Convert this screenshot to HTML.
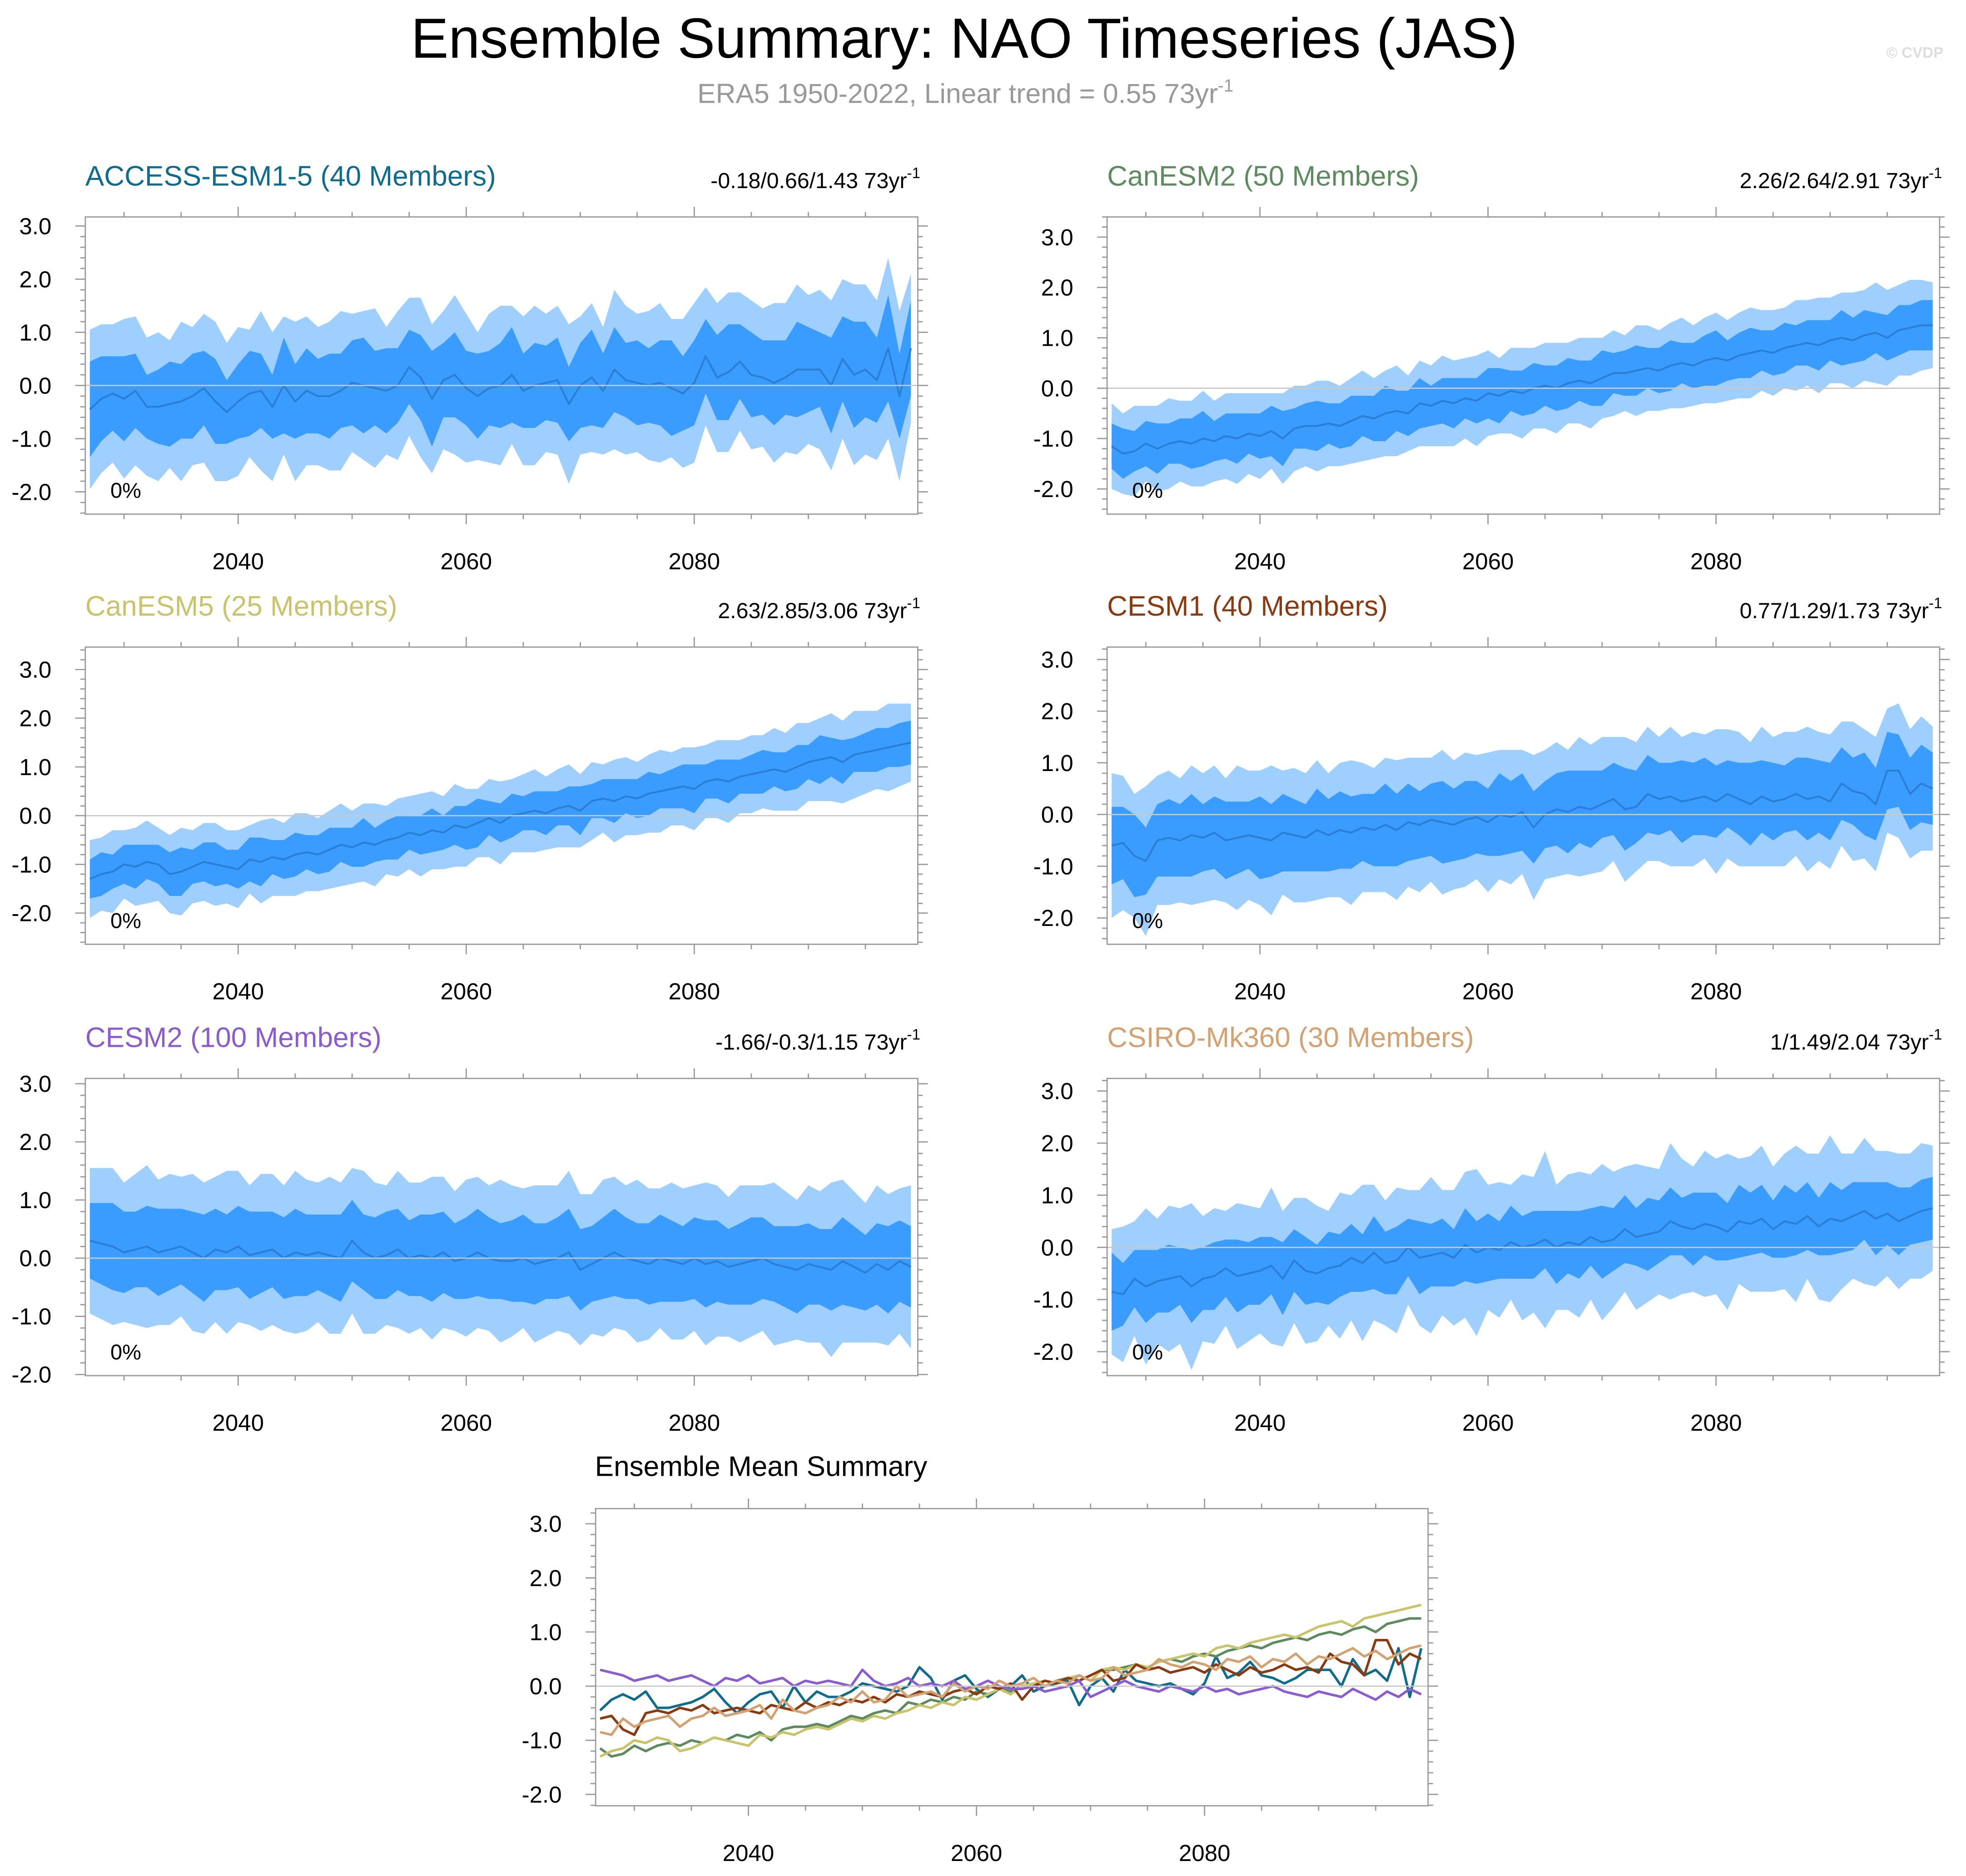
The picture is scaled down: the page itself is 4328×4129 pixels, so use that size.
<!DOCTYPE html>
<html><head><meta charset="utf-8"><style>
html,body{margin:0;padding:0;background:#fff}
svg{display:block;font-family:"Liberation Sans",sans-serif}
</style></head><body>
<svg id="chart" width="4328" height="4129" viewBox="0 0 1568 1496" xmlns="http://www.w3.org/2000/svg">
<rect width="1568" height="1496" fill="#fff"/>
<text x="769" y="46" font-size="45" text-anchor="middle">Ensemble Summary: NAO Timeseries (JAS)</text>
<text x="770" y="82" font-size="22" fill="#999" text-anchor="middle">ERA5 1950-2022, Linear trend = 0.55 73yr<tspan font-size="14" dy="-9">-1</tspan></text>
<text x="1550" y="46" font-size="12" font-weight="bold" fill="#ddd" text-anchor="end">© CVDP</text>
<g id="panels"></g>
</svg>
<script>
const years = []; for (let y = 2027; y <= 2099; y++) years.push(y);
const xTicks = [2040, 2060, 2080];
const yTicks = [-2, -1, 0, 1, 2, 3];
const yTickLabels = ["-2.0", "-1.0", "0.0", "1.0", "2.0", "3.0"];

const accessMean = [-0.45,-0.25,-0.15,-0.25,-0.1,-0.4,-0.4,-0.35,-0.3,-0.2,-0.05,-0.3,-0.5,-0.3,-0.15,-0.1,-0.4,0.0,-0.3,-0.1,-0.2,-0.2,-0.1,0.05,0.0,-0.05,-0.1,0.0,0.35,0.15,-0.25,0.1,0.2,-0.05,-0.2,-0.05,0.0,0.2,-0.1,0.0,0.05,0.1,-0.35,0.0,0.15,-0.1,0.3,0.1,0.05,0.0,0.05,-0.05,-0.15,0.05,0.55,0.15,0.25,0.45,0.2,0.15,0.05,0.15,0.3,0.3,0.3,0.0,0.5,0.2,0.3,0.1,0.7,-0.2,0.7];
const accessInner = [0.9,0.8,0.7,0.8,0.7,0.6,0.7,0.8,0.7,0.8,0.7,0.8,0.6,0.7,0.8,0.7,0.6,0.9,0.7,0.8,0.7,0.8,0.7,0.8,0.9,0.7,0.8,0.7,0.7,0.8,0.9,0.7,0.8,0.7,0.8,0.7,0.8,0.9,0.7,0.8,0.7,0.8,0.7,0.8,0.9,0.7,0.8,0.7,0.8,0.7,0.8,0.9,0.7,0.8,0.7,0.8,0.9,0.7,0.8,0.7,0.8,0.7,0.9,0.8,0.7,0.9,0.8,1.0,0.9,0.8,1.0,0.8,0.9];
const accessOuter = [1.5,1.4,1.3,1.5,1.4,1.3,1.4,1.2,1.5,1.3,1.4,1.5,1.3,1.4,1.2,1.5,1.4,1.3,1.5,1.4,1.3,1.4,1.5,1.3,1.4,1.5,1.2,1.4,1.3,1.5,1.4,1.3,1.5,1.4,1.2,1.4,1.5,1.3,1.4,1.5,1.3,1.4,1.5,1.3,1.4,1.2,1.5,1.4,1.3,1.4,1.5,1.3,1.4,1.5,1.3,1.4,1.5,1.3,1.4,1.3,1.5,1.4,1.6,1.4,1.5,1.6,1.5,1.7,1.6,1.5,1.7,1.6,1.4];

const can2Mean = [-1.15,-1.3,-1.25,-1.1,-1.2,-1.1,-1.05,-1.1,-1.0,-1.05,-0.95,-1.0,-0.9,-0.95,-0.85,-1.0,-0.8,-0.75,-0.75,-0.7,-0.75,-0.65,-0.55,-0.6,-0.5,-0.45,-0.5,-0.3,-0.35,-0.25,-0.3,-0.2,-0.25,-0.1,-0.15,-0.05,-0.1,0.0,0.05,0.0,0.1,0.15,0.1,0.2,0.3,0.3,0.35,0.4,0.35,0.45,0.5,0.45,0.55,0.6,0.55,0.65,0.7,0.75,0.7,0.8,0.85,0.9,0.85,0.95,1.0,0.95,1.05,1.1,1.0,1.15,1.2,1.25,1.25];
const can2Inner = [0.45,0.5,0.4,0.45,0.5,0.4,0.45,0.5,0.55,0.4,0.45,0.5,0.4,0.45,0.5,0.55,0.4,0.45,0.5,0.4,0.45,0.5,0.4,0.45,0.55,0.4,0.45,0.5,0.4,0.45,0.5,0.4,0.45,0.5,0.55,0.4,0.45,0.5,0.4,0.45,0.5,0.4,0.45,0.55,0.4,0.45,0.5,0.4,0.45,0.5,0.4,0.45,0.5,0.55,0.4,0.45,0.5,0.4,0.45,0.5,0.4,0.45,0.5,0.4,0.55,0.45,0.5,0.4,0.45,0.5,0.45,0.5,0.5];
const can2Outer = [0.85,0.8,0.9,0.75,0.85,0.9,0.8,0.85,0.95,0.8,0.85,0.9,0.8,0.85,0.75,0.9,0.85,0.8,0.9,0.85,0.8,0.85,0.9,0.8,0.85,0.9,0.75,0.85,0.8,0.9,0.85,0.8,0.9,0.85,0.75,0.85,0.9,0.8,0.85,0.9,0.8,0.85,0.9,0.8,0.85,0.75,0.9,0.85,0.8,0.85,0.9,0.8,0.85,0.9,0.8,0.85,0.9,0.8,0.85,0.8,0.9,0.85,0.95,0.85,0.9,0.95,0.9,1.0,0.95,0.9,0.95,0.9,0.85];

const can5Mean = [-1.3,-1.2,-1.15,-1.0,-1.05,-0.95,-1.0,-1.2,-1.15,-1.05,-0.95,-1.0,-1.05,-1.1,-0.9,-0.95,-0.85,-0.9,-0.8,-0.75,-0.8,-0.7,-0.6,-0.65,-0.55,-0.6,-0.5,-0.45,-0.35,-0.4,-0.3,-0.35,-0.2,-0.25,-0.15,-0.05,-0.15,0.0,0.05,0.1,0.05,0.15,0.2,0.1,0.3,0.35,0.3,0.4,0.35,0.45,0.5,0.55,0.6,0.55,0.7,0.75,0.7,0.8,0.85,0.9,0.95,0.9,1.0,1.1,1.15,1.2,1.1,1.25,1.3,1.35,1.4,1.45,1.5];
const can5Inner = [0.4,0.45,0.35,0.4,0.45,0.35,0.4,0.45,0.5,0.35,0.4,0.45,0.35,0.4,0.45,0.5,0.35,0.4,0.45,0.35,0.4,0.45,0.35,0.4,0.5,0.35,0.4,0.45,0.35,0.4,0.45,0.35,0.4,0.45,0.5,0.35,0.4,0.45,0.35,0.4,0.45,0.35,0.4,0.5,0.35,0.4,0.45,0.35,0.4,0.45,0.35,0.4,0.45,0.5,0.35,0.4,0.45,0.35,0.4,0.45,0.35,0.4,0.45,0.35,0.5,0.4,0.45,0.35,0.4,0.45,0.4,0.45,0.45];
const can5Outer = [0.8,0.75,0.85,0.7,0.8,0.85,0.75,0.8,0.9,0.75,0.8,0.85,0.75,0.8,0.7,0.85,0.8,0.75,0.85,0.8,0.75,0.8,0.85,0.75,0.8,0.85,0.7,0.8,0.75,0.85,0.8,0.75,0.85,0.8,0.7,0.8,0.85,0.75,0.8,0.85,0.75,0.8,0.85,0.75,0.8,0.7,0.85,0.8,0.75,0.8,0.85,0.75,0.8,0.85,0.75,0.8,0.85,0.75,0.8,0.75,0.85,0.8,0.9,0.8,0.85,0.9,0.85,0.9,0.85,0.8,0.9,0.85,0.8];

const cesm1Mean = [-0.6,-0.55,-0.8,-0.9,-0.5,-0.45,-0.5,-0.4,-0.45,-0.35,-0.5,-0.45,-0.4,-0.45,-0.5,-0.35,-0.4,-0.45,-0.3,-0.4,-0.3,-0.35,-0.25,-0.3,-0.2,-0.3,-0.15,-0.2,-0.1,-0.15,-0.2,-0.1,-0.05,-0.15,0.0,-0.05,0.05,-0.25,0.0,0.1,0.05,0.15,0.1,0.2,0.3,0.1,0.15,0.4,0.3,0.35,0.25,0.3,0.35,0.25,0.4,0.3,0.2,0.35,0.25,0.3,0.4,0.3,0.35,0.25,0.6,0.45,0.4,0.2,0.85,0.85,0.4,0.6,0.5];
const cesm1Inner = [0.75,0.7,0.8,0.65,0.7,0.75,0.7,0.8,0.65,0.7,0.75,0.7,0.65,0.8,0.7,0.75,0.7,0.65,0.8,0.7,0.75,0.7,0.65,0.7,0.8,0.7,0.75,0.65,0.7,0.8,0.7,0.75,0.7,0.65,0.8,0.7,0.75,0.7,0.65,0.7,0.8,0.7,0.75,0.65,0.7,0.8,0.7,0.75,0.7,0.65,0.8,0.7,0.75,0.7,0.65,0.7,0.8,0.7,0.75,0.65,0.7,0.8,0.7,0.75,0.7,0.65,0.8,0.7,0.75,0.7,0.7,0.75,0.7];
const cesm1Outer = [1.4,1.3,1.2,1.45,1.25,1.3,1.2,1.35,1.25,1.3,1.2,1.4,1.25,1.3,1.45,1.2,1.3,1.25,1.35,1.2,1.3,1.4,1.25,1.2,1.3,1.35,1.25,1.3,1.2,1.4,1.25,1.3,1.2,1.35,1.25,1.3,1.2,1.4,1.25,1.3,1.2,1.35,1.25,1.3,1.2,1.4,1.25,1.3,1.2,1.35,1.25,1.3,1.2,1.4,1.25,1.3,1.2,1.35,1.25,1.3,1.2,1.4,1.25,1.3,1.2,1.35,1.25,1.3,1.2,1.3,1.25,1.3,1.2];

const cesm2Mean = [0.3,0.25,0.2,0.1,0.15,0.2,0.1,0.15,0.2,0.1,0.0,0.15,0.1,0.2,0.05,0.1,0.15,0.0,0.1,0.05,0.1,0.05,0.0,0.3,0.1,0.0,0.05,0.15,0.0,0.05,0.0,0.1,-0.05,0.0,0.1,0.0,-0.05,-0.05,0.0,-0.1,-0.05,0.0,0.1,-0.2,-0.1,0.0,0.1,0.0,-0.05,-0.1,0.0,-0.05,-0.1,0.0,-0.1,-0.05,-0.15,-0.1,-0.05,0.0,-0.1,-0.15,-0.2,-0.1,-0.15,-0.2,-0.05,-0.15,-0.25,-0.1,-0.2,-0.05,-0.15];
const cesm2Inner = [0.65,0.7,0.75,0.7,0.65,0.7,0.75,0.7,0.65,0.7,0.75,0.7,0.65,0.7,0.75,0.7,0.65,0.7,0.75,0.7,0.65,0.7,0.75,0.7,0.65,0.7,0.75,0.7,0.65,0.7,0.75,0.7,0.65,0.7,0.75,0.7,0.65,0.7,0.75,0.7,0.65,0.7,0.75,0.7,0.65,0.7,0.75,0.7,0.65,0.7,0.75,0.7,0.65,0.7,0.75,0.7,0.65,0.7,0.75,0.7,0.65,0.7,0.75,0.7,0.65,0.7,0.75,0.7,0.65,0.7,0.75,0.7,0.7];
const cesm2Outer = [1.25,1.3,1.35,1.2,1.3,1.4,1.25,1.3,1.2,1.35,1.3,1.25,1.4,1.3,1.2,1.35,1.3,1.25,1.4,1.3,1.2,1.35,1.3,1.25,1.4,1.3,1.2,1.35,1.3,1.25,1.4,1.3,1.2,1.35,1.3,1.25,1.4,1.3,1.2,1.35,1.3,1.25,1.4,1.3,1.2,1.35,1.3,1.25,1.4,1.3,1.2,1.35,1.3,1.25,1.4,1.3,1.2,1.35,1.3,1.25,1.4,1.3,1.2,1.35,1.3,1.5,1.4,1.3,1.2,1.35,1.3,1.25,1.4];

const csiroMean = [-0.85,-0.9,-0.6,-0.75,-0.65,-0.6,-0.55,-0.75,-0.6,-0.55,-0.4,-0.55,-0.5,-0.45,-0.35,-0.6,-0.25,-0.45,-0.5,-0.4,-0.35,-0.2,-0.3,-0.1,-0.3,-0.25,0.0,-0.2,-0.15,-0.1,-0.2,0.05,-0.1,0.0,-0.05,0.1,0.0,0.05,0.15,0.0,0.1,0.05,0.2,0.1,0.15,0.35,0.2,0.25,0.3,0.5,0.4,0.35,0.45,0.4,0.3,0.5,0.45,0.55,0.35,0.5,0.45,0.6,0.4,0.55,0.5,0.6,0.7,0.55,0.65,0.5,0.6,0.7,0.75];
const csiroInner = [0.75,0.6,0.55,0.7,0.6,0.65,0.55,0.7,0.6,0.65,0.55,0.7,0.6,0.65,0.55,0.7,0.6,0.65,0.55,0.7,0.6,0.65,0.55,0.7,0.6,0.65,0.55,0.7,0.6,0.65,0.55,0.7,0.6,0.65,0.55,0.7,0.6,0.65,0.55,0.7,0.6,0.65,0.55,0.7,0.6,0.65,0.55,0.7,0.6,0.65,0.55,0.7,0.6,0.65,0.55,0.7,0.6,0.65,0.55,0.7,0.6,0.65,0.55,0.7,0.6,0.65,0.55,0.7,0.6,0.65,0.55,0.6,0.6];
const csiroOuter = [1.2,1.3,1.1,1.5,1.2,1.4,1.3,1.6,1.2,1.3,1.1,1.4,1.3,1.2,1.5,1.3,1.2,1.4,1.3,1.1,1.4,1.2,1.5,1.3,1.2,1.4,1.1,1.3,1.5,1.2,1.3,1.4,1.6,1.2,1.3,1.1,1.4,1.3,1.7,1.2,1.3,1.4,1.2,1.5,1.3,1.2,1.4,1.3,1.2,1.5,1.3,1.2,1.4,1.3,1.5,1.2,1.3,1.4,1.2,1.3,1.5,1.2,1.4,1.6,1.3,1.2,1.4,1.3,1.2,1.3,1.2,1.3,1.2];

const NS = "http://www.w3.org/2000/svg";
const root = document.getElementById("panels");
function el(tag, attrs, parent) {
  const e = document.createElementNS(NS, tag);
  for (const k in attrs) e.setAttribute(k, attrs[k]);
  (parent || root).appendChild(e);
  return e;
}
const W = 664, H = 237, X0 = 2026.6, X1 = 2099.6;

function frame(g, x0, y0, ymin, ymax) {
  const sx = v => x0 + (v - X0) / (X1 - X0) * W;
  const sy = v => y0 + (ymax - v) / (ymax - ymin) * H;
  return {sx, sy};
}
function axes(g, x0, y0, ymin, ymax, sx, sy) {
  const zl = el("line", {x1: x0, x2: x0 + W, y1: sy(0), y2: sy(0), stroke: "#c8c8c8", "stroke-width": 1}, g);
  
  
  const fr = el("rect", {x: x0, y: y0, width: W, height: H, fill: "none", stroke: "#999", "stroke-width": 1}, g);
  
  
  let d = "";
  for (let v = Math.ceil(ymin * 5) / 5; v <= ymax + 1e-9; v += 0.2) {
    const y = sy(v).toFixed(1);
    const major = Math.abs(v - Math.round(v)) < 1e-6;
    const L = major ? 8 : 4;
    d += `M${x0} ${y}h${-L}M${x0 + W} ${y}h${L}`;
  }
  for (let yr = 2030; yr <= 2095; yr += 5) {
    const x = sx(yr).toFixed(1);
    const L = yr % 20 === 0 ? 8 : 4;
    d += `M${x} ${y0}v${-L}M${x} ${y0 + H}v${L}`;
  }
  const tk = el("path", {d, stroke: "#999", "stroke-width": 1, fill: "none"}, g);
  
  
  yTicks.forEach((v, i) => {
    if (v < ymin || v > ymax) return;
    const t = el("text", {x: x0 - 27, y: sy(v) + 6.5, "font-size": 18.5, "text-anchor": "end"}, g);
    
    
    t.textContent = yTickLabels[i];
  });
  xTicks.forEach(v => {
    const t = el("text", {x: sx(v), y: y0 + H + 44, "font-size": 18.5, "text-anchor": "middle"}, g);
    
    
    t.textContent = v;
  });
}
function band(g, sx, sy, mean, hw, fill, name) {
  let d = "M";
  years.forEach((yr, i) => { d += `${sx(yr).toFixed(1)} ${sy(mean[i] + hw[i]).toFixed(1)}L`; });
  for (let i = years.length - 1; i >= 0; i--) d += `${sx(years[i]).toFixed(1)} ${sy(mean[i] - hw[i]).toFixed(1)}${i ? "L" : "Z"}`;
  const p = el("path", {d, fill, stroke: "none"}, g);
  
  
}
function line(g, sx, sy, vals, color, w, name) {
  const pts = years.map((yr, i) => `${sx(yr).toFixed(1)},${sy(vals[i]).toFixed(1)}`).join(" ");
  const p = el("polyline", {points: pts, fill: "none", stroke: color, "stroke-width": w, "stroke-linejoin": "round"}, g);
  
  
}

const panels = [
  {name: "access-esm1-5", title: "ACCESS-ESM1-5 (40 Members)", color: "#116c8c", stats: "-0.18/0.66/1.43", x0: 68, y0: 173, ymin: -2.42, ymax: 3.17, mean: accessMean, inner: accessInner, outer: accessOuter},
  {name: "canesm2", title: "CanESM2 (50 Members)", color: "#5e8a60", stats: "2.26/2.64/2.91", x0: 883, y0: 173, ymin: -2.5, ymax: 3.4, mean: can2Mean, inner: can2Inner, outer: can2Outer},
  {name: "canesm5", title: "CanESM5 (25 Members)", color: "#c9c46c", stats: "2.63/2.85/3.06", x0: 68, y0: 516, ymin: -2.64, ymax: 3.46, mean: can5Mean, inner: can5Inner, outer: can5Outer},
  {name: "cesm1", title: "CESM1 (40 Members)", color: "#8a3a10", stats: "0.77/1.29/1.73", x0: 883, y0: 516, ymin: -2.51, ymax: 3.24, mean: cesm1Mean, inner: cesm1Inner, outer: cesm1Outer},
  {name: "cesm2", title: "CESM2 (100 Members)", color: "#8a5cd0", stats: "-1.66/-0.3/1.15", x0: 68, y0: 860, ymin: -2.02, ymax: 3.09, mean: cesm2Mean, inner: cesm2Inner, outer: cesm2Outer},
  {name: "csiro-mk360", title: "CSIRO-Mk360 (30 Members)", color: "#d2a272", stats: "1/1.49/2.04", x0: 883, y0: 860, ymin: -2.46, ymax: 3.24, mean: csiroMean, inner: csiroInner, outer: csiroOuter}
];

panels.forEach(p => {
  const g = el("g", {});
  
  
  const {sx, sy} = frame(g, p.x0, p.y0, p.ymin, p.ymax);
  band(g, sx, sy, p.mean, p.outer, "#9fcfff", "outer-spread-band");
  band(g, sx, sy, p.mean, p.inner, "#3a9cff", "inner-spread-band");
  line(g, sx, sy, p.mean, "#2a7fd4", 1.5, "ensemble-mean-line");
  axes(g, p.x0, p.y0, p.ymin, p.ymax, sx, sy);
  const t = el("text", {x: p.x0, y: p.y0 - 25, "font-size": 22.5, fill: p.color}, g);
  
  
  t.textContent = p.title;
  const s = el("text", {x: p.x0 + W + 2, y: p.y0 - 23, "font-size": 17.5, "text-anchor": "end"}, g);
  
  
  s.innerHTML = p.stats + ' 73yr<tspan font-size="12" dy="-8">-1</tspan>';
  const pc = el("text", {x: p.x0 + 20, y: p.y0 + H - 13, "font-size": 17}, g);
  
  
  pc.textContent = "0%";
});

// Ensemble mean summary
(function () {
  const x0 = 475, y0 = 1203, ymin = -2.21, ymax = 3.28;
  const g = el("g", {});
  
  
  const {sx, sy} = frame(g, x0, y0, ymin, ymax);
  panels.forEach(p => line(g, sx, sy, p.mean, p.color, 2, p.name + "-mean-line"));
  axes(g, x0, y0, ymin, ymax, sx, sy);
  const t = el("text", {x: 607, y: 1177, "font-size": 22.5, "text-anchor": "middle"}, g);
  
  
  t.textContent = "Ensemble Mean Summary";
})();
</script>
</body></html>
